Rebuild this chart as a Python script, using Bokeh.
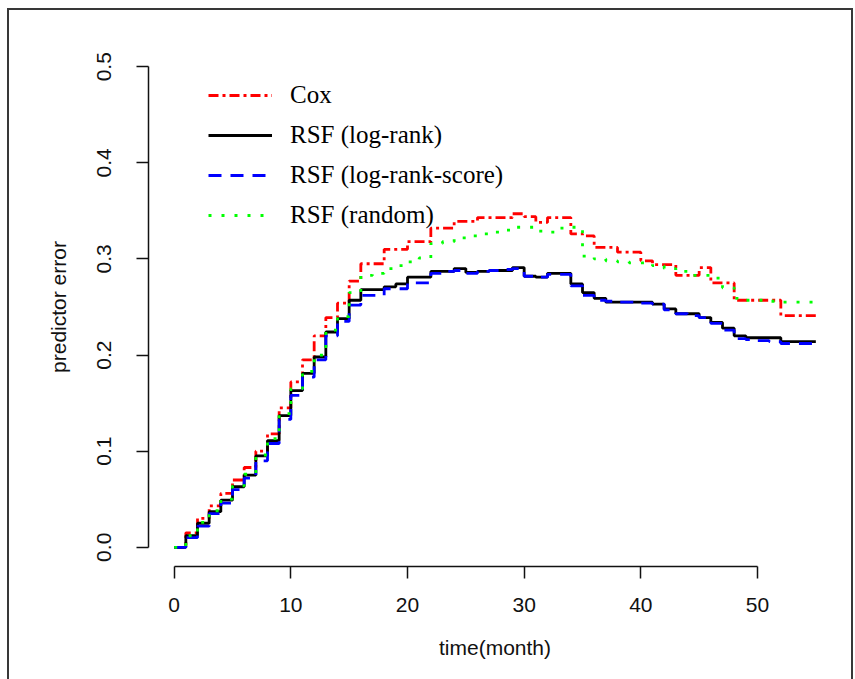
from bokeh.plotting import figure
from bokeh.models import (Range1d, Legend, LegendItem,
                          FixedTicker, PrintfTickFormatter, ColumnDataSource)
from bokeh.embed import file_html
from bokeh.resources import INLINE

months = [0, 1, 2, 3, 4, 5, 6, 7, 8, 9, 10, 11, 12, 13, 14, 15, 16, 17, 18, 19,
          20, 21, 22, 23, 24, 25, 26, 27, 28, 29, 30, 31, 32, 33, 34, 35, 36, 37,
          38, 39, 40, 41, 42, 43, 44, 45, 46, 47, 48, 49, 50, 51, 52, 53, 54, 55]

cox = [0.000, 0.015, 0.030, 0.043, 0.056, 0.070, 0.083, 0.100, 0.118, 0.145,
       0.172, 0.195, 0.220, 0.239, 0.254, 0.277, 0.295, 0.295, 0.310, 0.310,
       0.318, 0.318, 0.332, 0.332, 0.339, 0.339, 0.343, 0.343, 0.343, 0.347,
       0.344, 0.338, 0.343, 0.343, 0.326, 0.324, 0.312, 0.312, 0.307, 0.307,
       0.298, 0.294, 0.294, 0.283, 0.283, 0.291, 0.275, 0.275, 0.257, 0.257,
       0.257, 0.257, 0.241, 0.241, 0.241, 0.241]

rsf_logrank = [0.000, 0.012, 0.025, 0.037, 0.049, 0.063, 0.075, 0.095, 0.111, 0.137,
               0.163, 0.181, 0.198, 0.224, 0.238, 0.257, 0.268, 0.268, 0.271, 0.274,
               0.281, 0.281, 0.287, 0.287, 0.290, 0.286, 0.287, 0.288, 0.288, 0.291,
               0.282, 0.281, 0.285, 0.285, 0.274, 0.265, 0.259, 0.255, 0.255, 0.255,
               0.255, 0.253, 0.248, 0.243, 0.243, 0.239, 0.234, 0.228, 0.220, 0.218,
               0.218, 0.218, 0.214, 0.214, 0.214, 0.214]

rsf_logrank_score = [0.000, 0.010, 0.022, 0.035, 0.046, 0.060, 0.072, 0.090, 0.108, 0.133,
                     0.158, 0.177, 0.195, 0.220, 0.235, 0.252, 0.262, 0.262, 0.269, 0.269,
                     0.275, 0.275, 0.285, 0.287, 0.288, 0.285, 0.287, 0.288, 0.289, 0.290,
                     0.282, 0.281, 0.284, 0.284, 0.272, 0.262, 0.257, 0.256, 0.255, 0.255,
                     0.254, 0.253, 0.247, 0.243, 0.241, 0.239, 0.233, 0.226, 0.217, 0.216,
                     0.215, 0.214, 0.212, 0.212, 0.212, 0.212]

rsf_random = [0.000, 0.012, 0.026, 0.038, 0.050, 0.064, 0.076, 0.096, 0.113, 0.139,
              0.165, 0.183, 0.200, 0.226, 0.240, 0.265, 0.283, 0.285, 0.290, 0.293,
              0.297, 0.301, 0.316, 0.318, 0.322, 0.324, 0.326, 0.328, 0.330, 0.333,
              0.333, 0.329, 0.328, 0.332, 0.333, 0.303, 0.300, 0.298, 0.297, 0.296,
              0.296, 0.293, 0.290, 0.287, 0.283, 0.283, 0.280, 0.270, 0.259, 0.257,
              0.257, 0.256, 0.255, 0.255, 0.255, 0.255]

series_labels = ["Cox", "RSF (log-rank)", "RSF (log-rank-score)", "RSF (random)"]
x_ticks = [0, 10, 20, 30, 40, 50]
y_ticks = [0.0, 0.1, 0.2, 0.3, 0.4, 0.5]

src = ColumnDataSource(dict(t=months, cox=cox, lr=rsf_logrank,
                            lrs=rsf_logrank_score, rnd=rsf_random))

edge = "linear-gradient(#383838, #383838)"
page_frame = {
    "background-color": "white",
    "background-image": ", ".join([edge, edge, edge]),
    "background-position": "7px 8px, 7px 8px, 851px 8px",
    "background-size": "2px 700px, 846px 2px, 2px 700px",
    "background-repeat": "no-repeat",
}

p = figure(width=855, height=679, output_backend="svg", toolbar_location=None,
           x_range=Range1d(-2.2, 57.2), y_range=Range1d(-0.02, 0.52),
           min_border_left=148, min_border_right=14, min_border_top=47,
           min_border_bottom=113, styles=page_frame)
p.outline_line_color = None
p.grid.visible = False
p.background_fill_alpha = 0
p.border_fill_alpha = 0

axis_font = "Liberation Sans"
for ax in (p.xaxis[0], p.yaxis[0]):
    ax.minor_tick_line_color = None
    ax.major_tick_in = 0
    ax.major_tick_out = 12
    ax.axis_line_width = 1.5
    ax.major_tick_line_width = 1.5
    ax.axis_line_color = "#111111"
    ax.major_tick_line_color = "#111111"
    ax.major_label_text_font = axis_font
    ax.major_label_text_font_size = "21px"
    ax.major_label_text_color = "#111111"
    ax.axis_label_text_font = axis_font
    ax.axis_label_text_font_size = "21px"
    ax.axis_label_text_font_style = "normal"
    ax.axis_label_text_color = "#111111"

p.xaxis.ticker = FixedTicker(ticks=x_ticks)
p.xaxis.bounds = (0, 50)
p.xaxis.formatter = PrintfTickFormatter(format="%d")
p.xaxis.axis_label = "time(month)"
p.xaxis.major_label_standoff = 19
p.xaxis.axis_label_standoff = 21

p.yaxis.ticker = FixedTicker(ticks=y_ticks)
p.yaxis.bounds = (0, 0.5)
p.yaxis.formatter = PrintfTickFormatter(format="%.1f")
p.yaxis.major_label_orientation = "vertical"
p.yaxis.axis_label = "predictor error"
p.yaxis.major_label_standoff = 25
p.yaxis.axis_label_standoff = 25

r_cox = p.step(x="t", y="cox", source=src, mode="after", line_color="#ff0000",
               line_width=2.8, line_dash="10 4 3 4")
r_lr = p.step(x="t", y="lr", source=src, mode="after", line_color="#000000",
              line_width=2.8)
r_lrs = p.step(x="t", y="lrs", source=src, mode="after", line_color="#0000ff",
               line_width=2.8, line_dash="13 9")
r_rnd = p.step(x="t", y="rnd", source=src, mode="after", line_color="#00ff00",
               line_width=2.8, line_dash="3 10")

legend = Legend(items=[LegendItem(label=series_labels[0], renderers=[r_cox]),
                       LegendItem(label=series_labels[1], renderers=[r_lr]),
                       LegendItem(label=series_labels[2], renderers=[r_lrs]),
                       LegendItem(label=series_labels[3], renderers=[r_rnd])],
                location=(60, 337), padding=0, margin=0, spacing=12,
                glyph_width=64, glyph_height=28, label_height=28,
                label_standoff=18, label_text_font="Liberation Serif",
                label_text_font_size="25px", label_text_color="#000000",
                border_line_color=None, background_fill_alpha=0)
p.add_layout(legend, "center")

open("out.html", "w").write(file_html(p, INLINE))
